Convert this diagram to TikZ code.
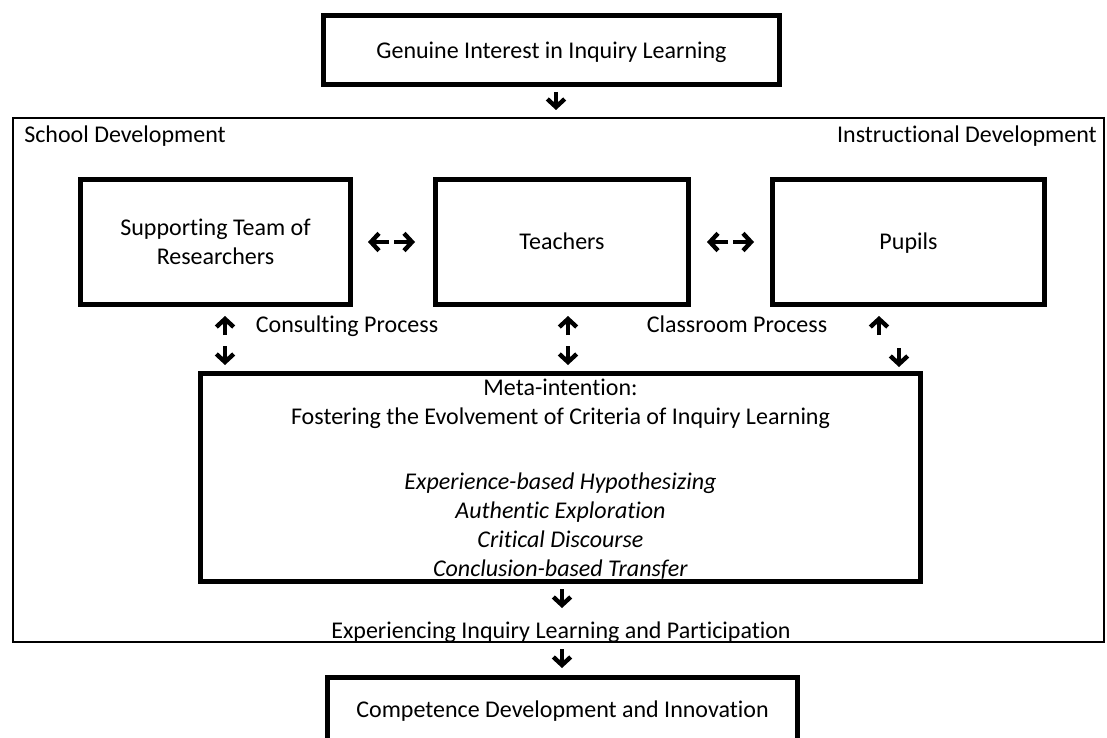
\documentclass[tikz,border=0pt]{standalone}
\usepackage{fontspec}
\setmainfont{Carlito}[Ligatures=NoCommon]
\usetikzlibrary{arrows.meta}
\newcommand\diagfs{\fontsize{18}{21.8}\selectfont}
\begin{document}
\begin{tikzpicture}[x=0.75pt,y=-0.75pt,
  box/.style={draw=black, line width=3.75pt, inner sep=0pt, align=center, font=\diagfs},
  oneline/.style={text height=13pt, text depth=1.4pt},
  framebox/.style={draw=black, line width=1.9pt, inner sep=0pt},
  txt/.style={inner sep=0pt, font=\diagfs, align=center},
  arr/.style={line width=3.3pt, -{Straight Barb[length=6pt,width=13pt]}}
]
\useasboundingbox (0,0) rectangle (1107,738);

% outer frame
\node[framebox, minimum width=818pt, minimum height=392.7pt] (frame) at (558.5,380) {};
\node[txt, oneline, anchor=west] (school) at (24,135) {School Development};
\node[txt, oneline, anchor=east] (instr) at (1097,135) {Instructional Development};

% boxes
\node[box, minimum width=342pt, minimum height=51.75pt] (top) at (551.5,50) {};
\node[txt, oneline] (toptext) at (551.5,51) {Genuine Interest in Inquiry Learning};
\node[box, minimum width=202.5pt, minimum height=93.75pt] (sup) at (215.5,242) {Supporting Team of\\Researchers};
\node[box, minimum width=189.75pt, minimum height=93.75pt] (tea) at (562,242) {};
\node[txt, oneline] (teatext) at (562,242) {Teachers};
\node[box, minimum width=204pt, minimum height=93.75pt] (pup) at (908.5,242) {};
\node[txt, oneline] (puptext) at (908.5,242) {Pupils};
\node[box, minimum width=540pt, minimum height=156pt] (meta) at (560.5,477.5) {};
\node[txt] (metatext) at (560.5,479) {Meta-intention:\\Fostering the Evolvement of Criteria of Inquiry Learning\\[5pt]
  \\\textit{Experience-based Hypothesizing}\\\textit{Authentic Exploration}\\\textit{Critical Discourse}\\\textit{Conclusion-based Transfer}};
\node[box, minimum width=352.5pt, minimum height=60pt] (comp) at (562.5,717.5) {};
\node[txt, oneline] (comptext) at (562.5,710) {Competence Development and Innovation};

% process labels
\node[txt, oneline] (consult) at (347,325) {Consulting Process};
\node[txt, oneline] (class) at (737,325) {Classroom Process};
\node[txt, oneline] (exper) at (561,631) {Experiencing Inquiry Learning and Participation};

% arrow end points
\coordinate (a1s) at (556,92);  \coordinate (a1e) at (556,110);
\coordinate (l1s) at (389,242); \coordinate (l1e) at (368,242);
\coordinate (r1s) at (394,242); \coordinate (r1e) at (415,242);
\coordinate (l2s) at (728,242); \coordinate (l2e) at (707,242);
\coordinate (r2s) at (733,242); \coordinate (r2e) at (754,242);
\coordinate (u1s) at (225,335); \coordinate (u1e) at (225,316);
\coordinate (d1s) at (225,346); \coordinate (d1e) at (225,365);
\coordinate (u2s) at (568,335); \coordinate (u2e) at (568,316);
\coordinate (d2s) at (568,346); \coordinate (d2e) at (568,365);
\coordinate (u3s) at (879,335); \coordinate (u3e) at (879,316);
\coordinate (d3s) at (899,348); \coordinate (d3e) at (899,367);
\coordinate (m1s) at (562,589); \coordinate (m1e) at (562,608);
\coordinate (m2s) at (562,649); \coordinate (m2e) at (562,668);

\draw[arr] (a1s) -- (a1e);
\draw[arr] (l1s) -- (l1e);
\draw[arr] (r1s) -- (r1e);
\draw[arr] (l2s) -- (l2e);
\draw[arr] (r2s) -- (r2e);
\draw[arr] (u1s) -- (u1e);
\draw[arr] (d1s) -- (d1e);
\draw[arr] (u2s) -- (u2e);
\draw[arr] (d2s) -- (d2e);
\draw[arr] (u3s) -- (u3e);
\draw[arr] (d3s) -- (d3e);
\draw[arr] (m1s) -- (m1e);
\draw[arr] (m2s) -- (m2e);
\end{tikzpicture}
\end{document}
